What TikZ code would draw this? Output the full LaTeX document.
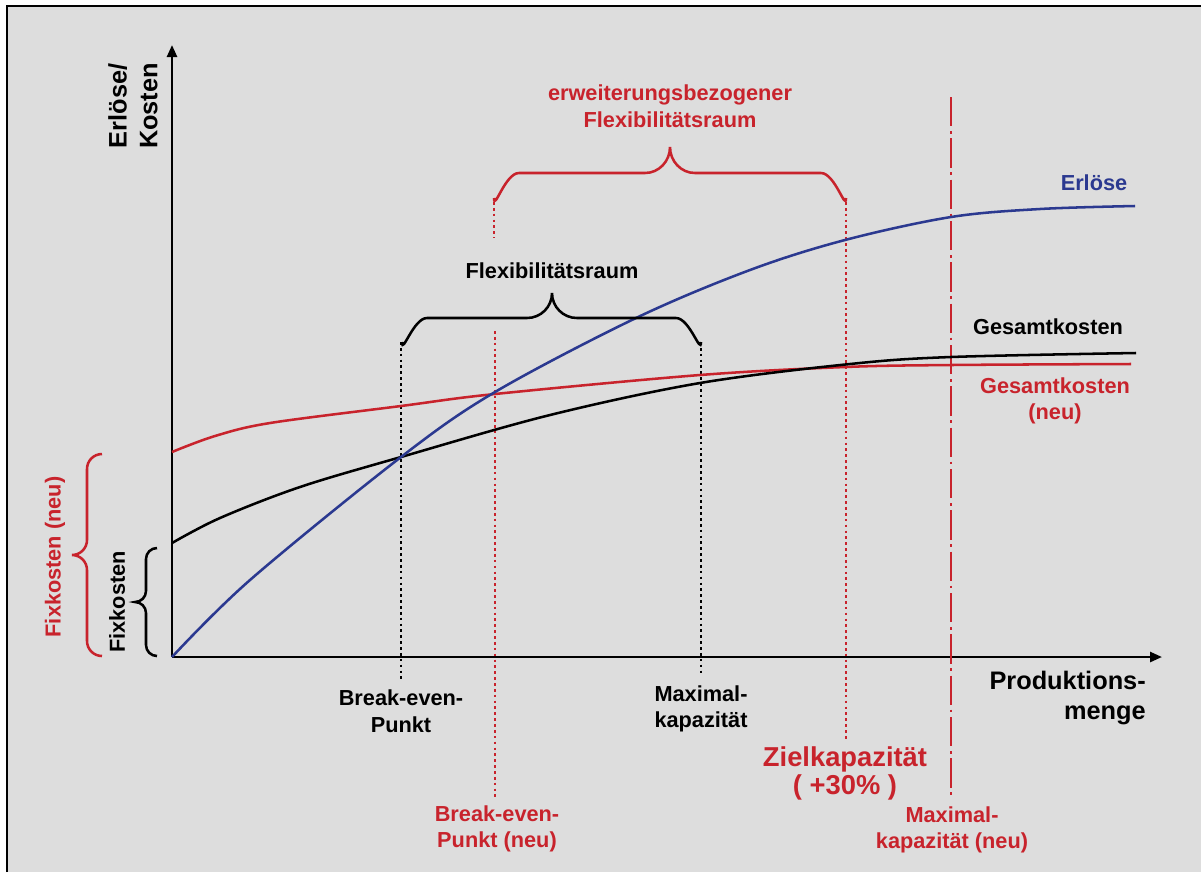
\documentclass[tikz,border=0pt]{standalone}
\usepackage{fontspec}
\setmainfont{Liberation Sans}
\usetikzlibrary{arrows.meta}
\definecolor{bg}{HTML}{DDDDDD}
\definecolor{rd}{HTML}{C8232C}
\definecolor{bl}{HTML}{2B3990}
\tikzset{
  lbl/.style={font=\bfseries\fontsize{16.3}{20}\selectfont, align=center, inner sep=0pt},
  biglbl/.style={font=\bfseries\fontsize{19}{23}\selectfont, align=center, inner sep=0pt},
  curve/.style={line width=1.9pt},
  axis/.style={line width=1.9pt, -{Triangle[length=9pt,width=7.5pt]}},
  brc/.style={line width=1.9pt},
  dots/.style={line width=1.9pt, dash pattern=on 2pt off 2.4pt},
  dashdot/.style={line width=1.9pt, dash pattern=on 22pt off 3.5pt on 2pt off 3.5pt}
}
\begin{document}
\begin{tikzpicture}[x=0.75pt,y=-0.75pt]
\useasboundingbox (0,0) rectangle (1201,872);
% frame
\fill[bg] (7,6) rectangle (1201,872);
\draw[line width=1.5pt] (7,872) -- (7,6) -- (1201,6);

% anchor points
\coordinate (O) at (172,657);
\coordinate (ytip) at (172,45);
\coordinate (xtip) at (1162,657);

% axes
\draw[axis] (O) -- (ytip);
\draw[axis] (O) -- (xtip);

% vertical marker lines
\coordinate (be1) at (401,342);  \coordinate (be1b) at (401,679);
\coordinate (mk1) at (701,342);  \coordinate (mk1b) at (701,676);
\coordinate (be2) at (495,331);  \coordinate (be2b) at (495,798);
\coordinate (be2u) at (494,202); \coordinate (be2ub) at (494,238);
\coordinate (zk) at (846,202);   \coordinate (zkb) at (846,740);
\coordinate (mk2) at (951,97);   \coordinate (mk2b) at (951,798);
\draw[dots] (be1) -- (be1b);
\draw[dots] (mk1) -- (mk1b);
\draw[dots, rd] (be2) -- (be2b);
\draw[dots, rd] (be2u) -- (be2ub);
\draw[dots, rd] (zk) -- (zkb);
\draw[dashdot, rd] (mk2) -- (mk2b);

% cost and revenue curves
\draw[curve, rd] plot[smooth, tension=0.55] coordinates {(172,452) (215,436) (270,423) (401,406) (495,394) (700,375) (845,367) (951,365) (1131,364)};
\draw[curve, black] plot[smooth, tension=0.55] coordinates {(172,543) (220,518) (300,487) (401,457) (550,415) (700,383) (850,364) (951,357) (1136,353)};
\draw[curve, bl] plot[smooth, tension=0.55] coordinates {(172,657) (250,580) (401,457) (495,392) (636,318) (750,270) (845,240) (951,217) (1040,209) (1135,206)};

% braces over the flexibility ranges
\draw[brc] (402,342) to[out=-90,in=180] (427,318) -- (527,318) to[out=0,in=-90] (552,293)
           to[out=-90,in=180] (577,318) -- (676,318) to[out=0,in=-90] (701,342);
\draw[brc, rd] (494,198) to[out=-90,in=180] (519,173) -- (645,173) to[out=0,in=-90] (670,147)
           to[out=-90,in=180] (695,173) -- (821,173) to[out=0,in=-90] (846,198);

% braces for the fixed costs
\draw[brc] (157,548) to[out=180,in=90] (146,559) -- (146,591) to[out=-90,in=0] (135,602)
           to[out=0,in=90] (146,613) -- (146,645) to[out=-90,in=180] (157,656);
\draw[brc, rd] (102,454) to[out=180,in=90] (87,469) -- (87,540) to[out=-90,in=0] (72,555)
           to[out=0,in=90] (87,570) -- (87,641) to[out=-90,in=180] (102,656);

% labels
\node[biglbl, rotate=90] (ylab) at (133,106) {Erlöse/\\Kosten};
\node[biglbl, align=right, anchor=east] (xlab) at (1146,698) {Produktions-\\menge};
\node[lbl, bl] (lerl) at (1094,183) {Erlöse};
\node[lbl] (lgk) at (1048,327) {Gesamtkosten};
\node[lbl, rd] (lgkn) at (1055,401) {Gesamtkosten\\(neu)};
\node[lbl, rd] (lerw) at (670,106) {erweiterungsbezogener\\Flexibilitätsraum};
\node[lbl] (lflex) at (552,271) {Flexibilitätsraum};
\node[lbl] (lbe1) at (401,711) {Break-even-\\Punkt};
\node[lbl] (lmk1) at (701,709) {Maximal-\\kapazität};
\node[lbl, rd] (lbe2) at (497,829) {Break-even-\\Punkt (neu)};
\node[lbl, rd, font=\bfseries\fontsize{20.5}{21}\selectfont] (lzk) at (845,773) {Zielkapazität\\( +30\% )};
\node[lbl, rd] (lmk2) at (952,830) {Maximal-\\kapazität (neu)};
\node[lbl, rotate=90] (lfix) at (117,602) {Fixkosten};
\node[lbl, rd, rotate=90] (lfixn) at (55,557) {Fixkosten (neu)};
\end{tikzpicture}
\end{document}
